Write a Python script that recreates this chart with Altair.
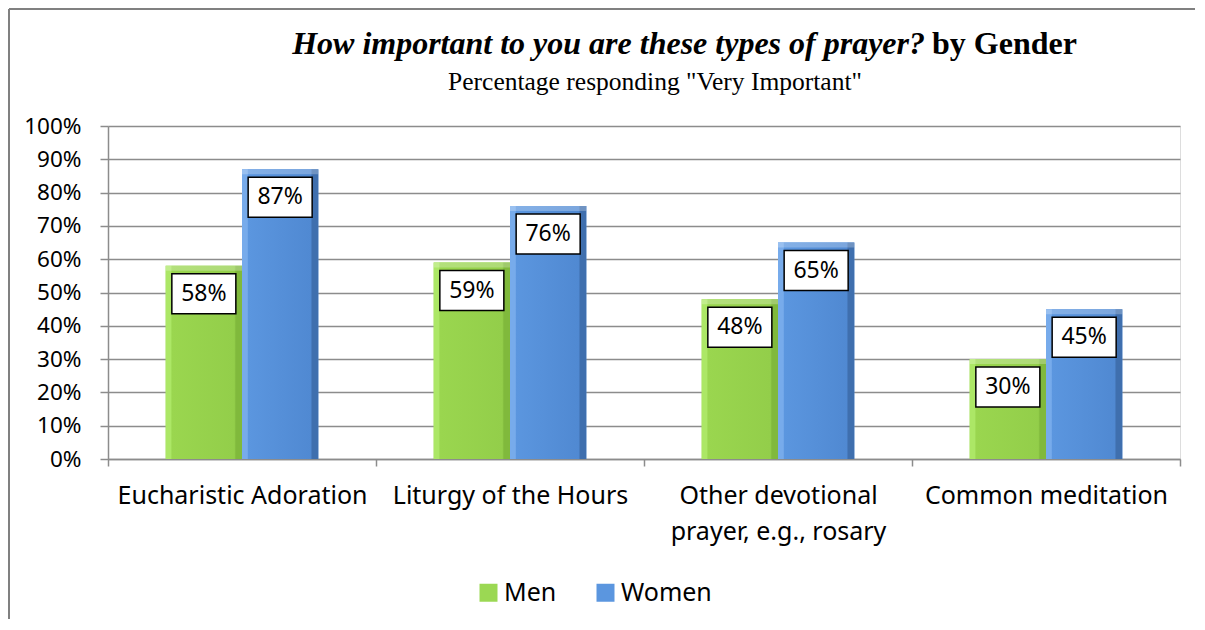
import altair as alt
import pandas as pd

# ---------------- data ----------------
categories = [
    "Eucharistic Adoration",
    "Liturgy of the Hours",
    "Other devotional prayer, e.g., rosary",
    "Common meditation",
]
genders = ["Men", "Women"]
men = [58, 59, 48, 30]
women = [87, 76, 65, 45]
y_ticks = [0, 10, 20, 30, 40, 50, 60, 70, 80, 90, 100]

title_main = "How important to you are these types of prayer?"
title_tail = "by Gender"
subtitle = 'Percentage responding "Very Important"'

rows = []
for c, m, w in zip(categories, men, women):
    rows.append({"category": c, "gender": "Men", "value": m})
    rows.append({"category": c, "gender": "Women", "value": w})
df = pd.DataFrame(rows)

# ---------------- layout ----------------
W, H = 1072, 333
PAD = {"left": 100, "top": 118, "right": 15, "bottom": 160}
GRID = "#8c8c8c"
GREEN = "#9bd853"
BLUE = "#5b96df"

x_enc = alt.X(
    "category:N",
    sort=categories,
    scale=alt.Scale(paddingInner=0, paddingOuter=0),
    axis=alt.Axis(
        title=None,
        labelAngle=0,
        labelFont="Noto Sans",
        labelFontSize=25,
        labelColor="black",
        labelLimit=0,
        labelPadding=17,
        labelLineHeight=36,
        labelBaseline="top",
        tickBand="extent",
        tickSize=7,
        tickColor=GRID,
        tickWidth=1.5,
        domainColor=GRID,
        domainWidth=1.5,
        grid=False,
        labelExpr="datum.value == 'Other devotional prayer, e.g., rosary' ? ['Other devotional', 'prayer, e.g., rosary'] : datum.value",
    ),
)
xo_enc = alt.XOffset(
    "gender:N",
    sort=genders,
    scale=alt.Scale(domain=genders, paddingOuter=0.756, paddingInner=0),
)
y_enc = alt.Y(
    "value:Q",
    scale=alt.Scale(domain=[0, 100], nice=False),
    axis=alt.Axis(
        title=None,
        values=y_ticks,
        labelExpr="datum.value + '%'",
        labelFont="Noto Sans",
        labelFontSize=22.5,
        labelColor="black",
        labelPadding=19,
        tickSize=8,
        tickColor=GRID,
        tickWidth=1.5,
        domainColor=GRID,
        domainWidth=1.5,
        grid=True,
        gridColor=GRID,
        gridWidth=1.5,
    ),
)

base = alt.Chart(df)

bars = base.mark_bar().encode(
    x=x_enc,
    xOffset=xo_enc,
    y=y_enc,
    color=alt.Color(
        "gender:N",
        sort=genders,
        scale=alt.Scale(domain=genders, range=[GREEN, BLUE]),
        legend=alt.Legend(
            title=None,
            orient="none",
            direction="horizontal",
            legendX=368,
            legendY=454,
            symbolType="square",
            symbolSize=324,
            symbolStrokeWidth=0,
            labelFont="Noto Sans",
            labelFontSize=25,
            labelColor="black",
            labelOffset=3,
            columnPadding=36,
            padding=0,
        ),
    ),
)


def grad(c_edge_l, c_mid, c_mid2, c_edge_r):
    return alt.Gradient(
        gradient="linear",
        x1=0, x2=1, y1=0, y2=0,
        stops=[
            alt.GradientStop(color=c_edge_l, offset=0),
            alt.GradientStop(color=c_edge_l, offset=0.07),
            alt.GradientStop(color=c_mid, offset=0.08),
            alt.GradientStop(color=c_mid2, offset=0.9),
            alt.GradientStop(color=c_edge_r, offset=0.92),
            alt.GradientStop(color=c_edge_r, offset=1),
        ],
    )


men_bars = base.transform_filter(alt.datum.gender == "Men").mark_bar(
    color=grad("#ace766", "#9ad64f", "#93ce4a", "#80b93c")
).encode(x=x_enc, xOffset=xo_enc, y=y_enc)

women_bars = base.transform_filter(alt.datum.gender == "Women").mark_bar(
    color=grad("#77abeb", "#5b96df", "#5089d2", "#3f6fae")
).encode(x=x_enc, xOffset=xo_enc, y=y_enc)

bevel = base.transform_calculate(top2="datum.value - 1.5").mark_bar(
    color="white", opacity=0.25
).encode(x=x_enc, xOffset=xo_enc, y=y_enc, y2="top2:Q")

boxes = base.mark_point(
    shape="M-1,-0.625L1,-0.625L1,0.625L-1,0.625Z",
    size=4096,
    filled=True,
    fill="white",
    stroke="black",
    strokeWidth=1.5,
    opacity=1,
    yOffset=28,
).encode(x=x_enc, xOffset=xo_enc, y=y_enc)

labels = base.transform_calculate(lbl="datum.value + '%'").mark_text(
    font="Noto Sans", fontSize=23, color="black", baseline="middle", dy=28
).encode(x=x_enc, xOffset=xo_enc, y=y_enc, text="lbl:N")

one = pd.DataFrame({"k": [0]})
t1 = alt.Chart(pd.DataFrame({"t": [title_main]})).mark_text(
    font="Liberation Serif", fontSize=32, fontStyle="italic", fontWeight="bold",
    align="right", baseline="alphabetic", color="black"
).encode(text="t:N", x=alt.value(925 - 108), y=alt.value(54 - 126))
t2 = alt.Chart(pd.DataFrame({"t": [title_tail]})).mark_text(
    font="Liberation Serif", fontSize=32, fontWeight="bold",
    align="left", baseline="alphabetic", color="black"
).encode(text="t:N", x=alt.value(932 - 108), y=alt.value(54 - 126))
t3 = alt.Chart(pd.DataFrame({"t": [subtitle]})).mark_text(
    font="Liberation Serif", fontSize=25.5,
    align="center", baseline="alphabetic", color="black"
).encode(text="t:N", x=alt.value(655 - 108), y=alt.value(90 - 126))

border_left = alt.Chart(one).mark_rule(color="#808080", strokeWidth=2).encode(
    x=alt.value(-99), y=alt.value(-117), y2=alt.value(H + PAD["bottom"])
)
border_top = alt.Chart(one).mark_rule(color="#808080", strokeWidth=2).encode(
    x=alt.value(-99), x2=alt.value(W + PAD["right"]), y=alt.value(-117)
)

chart = alt.layer(
    bars, men_bars, women_bars, bevel, boxes, labels, t1, t2, t3, border_left, border_top
).properties(
    width=W,
    height=H,
    autosize=alt.AutoSizeParams(type="none"),
    padding=PAD,
).configure_view(stroke=None).configure(background="white")

chart.save("out.html", embed_options={"renderer": "svg", "actions": False})
